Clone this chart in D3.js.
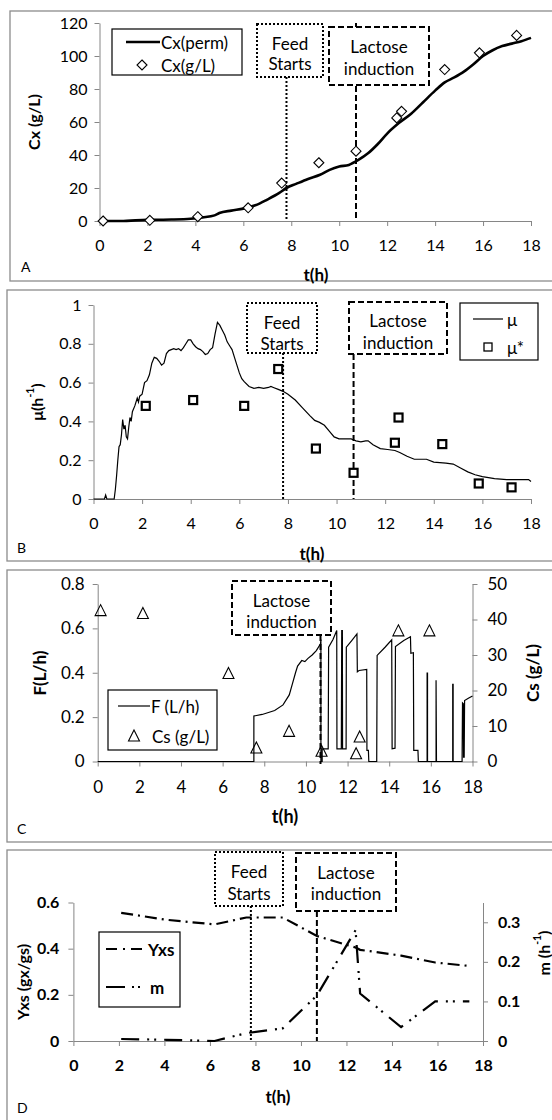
<!DOCTYPE html>
<html>
<head>
<meta charset="utf-8">
<script src="https://cdn.jsdelivr.net/npm/d3@7"></script>
<style>
  body { margin: 0; background: #fff; }
  svg text { font-family: Lato, "Open Sans", sans-serif; fill: #000; }
</style>
</head>
<body>
<svg id="fig" width="552" height="1120"></svg>
<script>
// ---------- data ----------
const ticksT   = [0, 2, 4, 6, 8, 10, 12, 14, 16, 18];
const ticksCx  = [0, 20, 40, 60, 80, 100, 120];
const ticksMu  = [0, 0.2, 0.4, 0.6, 0.8, 1];
const ticksF   = [0, 0.2, 0.4, 0.6, 0.8];
const ticksCs  = [0, 10, 20, 30, 40, 50];
const ticksYxs = [0, 0.2, 0.4, 0.6];
const ticksM   = [0, 0.1, 0.2, 0.3];

const tFeed = 7.8;       // feed starts (h)
const tLactose = 10.7;   // lactose induction (h)

// A: biomass from permittivity probe [t, g/L]
const cxPerm = [[0,0],[1,0],[1.5,0.4],[2,0.7],[3,0.9],[3.8,1.4],[4.3,2.2],[4.8,3.4],[5.0,4.8],[5.5,6.3],
  [6.0,7.5],[6.5,9.5],[7.0,13],[7.5,17],[7.8,20],[8.2,22.5],[8.7,25.5],[9.2,28],[9.6,31],[10,33],
  [10.4,34],[10.8,37],[11.2,41],[11.6,46.5],[12,53],[12.5,59.5],[13,65],[13.5,72],[14,79],[14.4,84],
  [14.8,87],[15.2,90.5],[15.6,95],[16,100],[16.4,103.5],[16.8,106],[17.2,107.5],[17.6,109],[18,111]];
// A: offline biomass samples [t, g/L]
const cxSample = [[0.15,0],[2.1,0.4],[4.1,2.6],[6.2,8],[7.6,23],[9.15,35.3],[10.7,42.3],[12.4,62.5],
  [12.6,66.5],[14.4,91.8],[15.85,101.9],[17.4,112.5]];

// B: online specific growth rate [t, 1/h]
const muOnline = [[0,0],[0.45,0],[0.5,0.02],[0.55,0],[0.85,0],[0.9,0.05],[0.95,0.12],[1.0,0.2],[1.05,0.27],
  [1.1,0.28],[1.15,0.33],[1.2,0.41],[1.25,0.36],[1.3,0.38],[1.35,0.32],[1.4,0.31],[1.45,0.37],[1.5,0.42],
  [1.55,0.4],[1.6,0.45],[1.7,0.48],[1.8,0.52],[1.85,0.5],[1.9,0.53],[2.0,0.54],[2.05,0.57],[2.1,0.6],
  [2.2,0.61],[2.3,0.64],[2.4,0.7],[2.5,0.73],[2.6,0.725],[2.7,0.71],[2.8,0.69],[2.9,0.7],[3.0,0.75],
  [3.1,0.765],[3.3,0.775],[3.4,0.77],[3.5,0.775],[3.6,0.765],[3.7,0.78],[3.8,0.8],[3.9,0.82],[4.0,0.82],
  [4.1,0.8],[4.2,0.785],[4.3,0.775],[4.4,0.77],[4.5,0.76],[4.6,0.745],[4.7,0.75],[4.8,0.77],[4.9,0.78],
  [5.0,0.85],[5.1,0.91],[5.2,0.895],[5.3,0.87],[5.4,0.845],[5.5,0.81],[5.6,0.79],[5.7,0.77],[5.8,0.73],
  [5.9,0.69],[6.0,0.65],[6.1,0.62],[6.2,0.605],[6.4,0.58],[6.6,0.57],[6.8,0.575],[7.0,0.57],[7.2,0.575],
  [7.3,0.58],[7.4,0.575],[7.6,0.565],[7.8,0.555],[8.0,0.54],[8.3,0.51],[8.6,0.47],[8.9,0.43],[9.1,0.405],
  [9.3,0.395],[9.5,0.38],[9.7,0.35],[9.9,0.32],[10.1,0.31],[10.4,0.31],[10.6,0.31],[10.8,0.3],[11.0,0.295],
  [11.2,0.3],[11.3,0.3],[11.5,0.28],[11.8,0.26],[12.1,0.255],[12.4,0.25],[12.6,0.24],[12.9,0.22],
  [13.2,0.205],[13.7,0.205],[14.0,0.19],[14.5,0.185],[14.8,0.18],[15.1,0.16],[15.4,0.14],[15.7,0.125],
  [16.0,0.115],[16.5,0.105],[17.0,0.1],[17.5,0.1],[17.9,0.1],[18.0,0.09]];
// B: growth rate from samples [t, 1/h]
const muSample = [[2.15,0.48],[4.1,0.51],[6.2,0.48],[7.6,0.67],[9.15,0.26],[10.7,0.135],[12.4,0.29],
  [12.55,0.42],[14.35,0.283],[15.85,0.08],[17.2,0.06]];

// C: feed rate [t, L/h]
const feedRate = [[0,0],[7.5,0],[7.5,0.205],[7.9,0.212],[8.5,0.23],[8.9,0.255],[9.2,0.3],[9.35,0.35],
  [9.5,0.4],[9.6,0.43],[9.8,0.455],[9.95,0.45],[10.1,0.465],[10.3,0.48],[10.5,0.5],[10.7,0.53],
  [10.72,0.55],[10.72,0],[10.78,0],[10.78,0.057],[11.07,0.057],[11.09,0.515],[11.3,0.55],[11.48,0.59],
  [11.49,0.057],[11.7,0.057],[11.72,0.59],[11.75,0.59],[11.76,0.057],[11.93,0.057],[11.94,0.515],
  [12.2,0.545],[12.45,0.575],[12.47,0.404],[12.55,0.41],[12.92,0.415],[12.93,0.05],[13.0,0.05],
  [13.02,0],[13.4,0],[13.42,0.478],[13.8,0.515],[14.12,0.548],[14.14,0.057],[14.28,0.06],[14.3,0.518],
  [14.7,0.545],[15.02,0.562],[15.04,0.488],[15.16,0.49],[15.18,0.05],[15.38,0.05],[15.4,0],[15.82,0],
  [15.82,0.398],[15.84,0.398],[15.84,0],[16.25,0],[16.25,0.366],[16.27,0],[17.05,0],[17.05,0.348],
  [17.07,0.348],[17.07,0],[17.5,0],[17.52,0.264],[17.56,0.26],[17.57,0.02],[17.6,0.02],[17.62,0.275],
  [17.8,0.285],[18,0.295]];
// C: residual substrate [t, g/L]
const csSample = [[0.14,42.5],[2.17,41.7],[6.28,24.8],[7.62,3.8],[9.19,8.5],[10.75,2.9],[12.41,2.2],
  [12.58,6.9],[14.44,36.8],[15.93,36.8]];

// D: biomass yield [t, gx/gs] and maintenance [t, 1/h]
const yxs = [[2.1,0.555],[4.1,0.525],[6.2,0.505],[7.6,0.535],[9.2,0.535],[10.7,0.455],[12.4,0.405],
  [12.6,0.395],[14.4,0.37],[15.9,0.34],[17.4,0.325]];
const mCoef = [[2.1,0.005],[4.1,0.003],[6.2,0],[7.6,0.02],[9.2,0.032],[10.7,0.115],[12.4,0.28],
  [12.6,0.12],[14.4,0.035],[15.9,0.1],[17.4,0.1]];

// ---------- drawing helpers ----------
const FONT = "Lato, 'Open Sans', sans-serif";
const AXIS = "#868686";
const fmt = d3.format("~g");
const svg = d3.select("#fig");

function frame(x, y, w, h) {
  svg.append("rect").attr("x", x).attr("y", y).attr("width", w).attr("height", h)
    .attr("fill", "none").attr("stroke", "#8c8c8c").attr("stroke-width", 1.3);
}

function axis(gen, tx, ty, size, bold) {
  const g = svg.append("g").attr("transform", `translate(${tx},${ty})`)
    .call(gen.tickFormat(fmt).tickSizeOuter(0));
  g.attr("font-family", FONT).attr("font-size", size).attr("font-weight", bold ? 700 : 400);
  g.select(".domain").attr("stroke", AXIS);
  g.selectAll(".tick line").attr("stroke", AXIS);
  g.selectAll(".tick text").attr("fill", "#000");
  return g;
}

function text(str, x, y, opts = {}) {
  return svg.append("text").attr("x", x).attr("y", y)
    .attr("font-size", opts.size || 16)
    .attr("font-weight", opts.bold ? 700 : 400)
    .attr("text-anchor", opts.anchor || "middle")
    .attr("dominant-baseline", "central")
    .text(str);
}

function vtitle(x, y, size, parts) {
  const t = svg.append("text")
    .attr("transform", `translate(${x},${y}) rotate(-90)`)
    .attr("font-size", size).attr("font-weight", 700)
    .attr("text-anchor", "middle").attr("dominant-baseline", "central");
  parts.forEach(p => {
    const s = t.append("tspan").text(p.t);
    if (p.sup) s.attr("font-size", size * 0.65).attr("dy", -size * 0.35);
    if (p.after) s.attr("dy", size * 0.35);
  });
  return t;
}

function noteBox(x0, y0, x1, y1, dash, lines, ys) {
  svg.append("rect").attr("x", x0).attr("y", y0).attr("width", x1 - x0).attr("height", y1 - y0)
    .attr("fill", "#fff").attr("stroke", "#000").attr("stroke-width", 2)
    .attr("stroke-dasharray", dash);
  lines.forEach((l, i) => text(l, (x0 + x1) / 2, ys[i], { size: 17 }));
}

function vline(x, y0, y1, dash) {
  svg.append("line").attr("x1", x).attr("x2", x).attr("y1", y0).attr("y2", y1)
    .attr("stroke", "#000").attr("stroke-width", 2).attr("stroke-dasharray", dash);
}

function legendBox(x0, y0, x1, y1) {
  svg.append("rect").attr("x", x0).attr("y", y0).attr("width", x1 - x0).attr("height", y1 - y0)
    .attr("fill", "#fff").attr("stroke", "#000").attr("stroke-width", 1.2);
}

const DOT = "2,2";
const DASH = "6,3";
const diamond = r => `M0,${-r}L${r},0L0,${r}L${-r},0Z`;
const triangle = (w, h) => `M0,${-h / 2 - 1}L${w / 2},${h / 2}L${-w / 2},${h / 2}Z`;

// ---------- A: biomass ----------
{
  frame(10, 11, 545, 270);
  const x = d3.scaleLinear().domain([0, 18]).range([99.5, 531]);
  const y = d3.scaleLinear().domain([0, 120]).range([221, 23]);

  axis(d3.axisLeft(y).tickValues(ticksCx).tickSize(5).tickPadding(7), x(0), 0, 16, false);
  axis(d3.axisBottom(x).tickValues(ticksT).tickSize(5).tickPadding(14), 0, y(0), 16, false);
  vtitle(33, 122, 16, [{ t: "Cx (g/L)" }]);
  text("t(h)", 316, 274, { size: 17, bold: true });
  text("A", 21, 266, { size: 14, anchor: "start" });

  vline(x(tFeed), 77, y(0), DOT);
  vline(x(tLactose), y(120), y(0), DASH);
  noteBox(257, 24, 323, 77, DOT, ["Feed", "Starts"], [43, 63]);
  noteBox(329, 27, 429, 85, DASH, ["Lactose", "induction"], [46, 68]);

  svg.append("path").datum(cxPerm)
    .attr("d", d3.line().x(d => x(d[0])).y(d => y(d[1])).curve(d3.curveMonotoneX))
    .attr("fill", "none").attr("stroke", "#000").attr("stroke-width", 2.6);
  svg.selectAll(".dA").data(cxSample).join("path")
    .attr("transform", d => `translate(${x(d[0])},${y(d[1])})`)
    .attr("d", diamond(5)).attr("fill", "#fff").attr("stroke", "#000").attr("stroke-width", 1.1);

  legendBox(112, 29, 242, 75);
  svg.append("line").attr("x1", 126).attr("x2", 160).attr("y1", 42).attr("y2", 42)
    .attr("stroke", "#000").attr("stroke-width", 2.6);
  text("Cx(perm)", 161, 42, { anchor: "start", size: 17 });
  svg.append("path").attr("transform", "translate(142,65)").attr("d", diamond(5))
    .attr("fill", "#fff").attr("stroke", "#000").attr("stroke-width", 1.1);
  text("Cx(g/L)", 161, 65, { anchor: "start", size: 17 });
}

// ---------- B: specific growth rate ----------
{
  frame(7, 290, 548, 271);
  const x = d3.scaleLinear().domain([0, 18]).range([93.5, 531]);
  const y = d3.scaleLinear().domain([0, 1]).range([499, 305]);

  axis(d3.axisLeft(y).tickValues(ticksMu).tickSize(5).tickPadding(7), x(0), 0, 16, false);
  axis(d3.axisBottom(x).tickValues(ticksT).tickSize(5).tickPadding(14), 0, y(0), 16, false);
  vtitle(36, 402, 16, [{ t: "μ(h" }, { t: "-1", sup: true }, { t: ")", after: true }]);
  text("t(h)", 312, 553, { size: 17, bold: true });
  text("B", 17, 547, { size: 14, anchor: "start" });

  vline(x(tFeed), 353, y(0), DOT);
  vline(x(tLactose), 354, y(0), DASH);
  noteBox(247, 303, 317, 353, DOT, ["Feed", "Starts"], [322, 343]);
  noteBox(349, 302, 447, 354, DASH, ["Lactose", "induction"], [320, 342]);

  svg.append("path").datum(muOnline)
    .attr("d", d3.line().x(d => x(d[0])).y(d => y(d[1])))
    .attr("fill", "none").attr("stroke", "#000").attr("stroke-width", 1.2);
  svg.selectAll(".sB").data(muSample).join("rect")
    .attr("x", d => x(d[0]) - 4).attr("y", d => y(d[1]) - 4).attr("width", 8).attr("height", 8)
    .attr("fill", "#fff").attr("stroke", "#000").attr("stroke-width", 2.2);

  legendBox(460, 303, 538, 360);
  svg.append("line").attr("x1", 473).attr("x2", 503).attr("y1", 319).attr("y2", 319)
    .attr("stroke", "#000").attr("stroke-width", 1.2);
  text("μ", 507, 319, { anchor: "start", size: 17 });
  svg.append("rect").attr("x", 484).attr("y", 343).attr("width", 8).attr("height", 8)
    .attr("fill", "#fff").attr("stroke", "#000").attr("stroke-width", 1.3);
  text("μ*", 507, 347, { anchor: "start", size: 17 });
}

// ---------- C: feed rate and substrate ----------
{
  frame(7, 570, 548, 272);
  const x = d3.scaleLinear().domain([0, 18]).range([97.7, 472.5]);
  const yF = d3.scaleLinear().domain([0, 0.8]).range([761.5, 584]);
  const yS = d3.scaleLinear().domain([0, 50]).range([761.5, 584]);

  axis(d3.axisLeft(yF).tickValues(ticksF).tickSize(5).tickPadding(8), x(0), 0, 17, false);
  axis(d3.axisRight(yS).tickValues(ticksCs).tickSize(5).tickPadding(10), x(18), 0, 17, false);
  axis(d3.axisBottom(x).tickValues(ticksT).tickSize(5).tickPadding(14), 0, yF(0), 17, false);
  vtitle(39, 673, 17, [{ t: "F(L/h)" }]);
  vtitle(532, 673, 17, [{ t: "Cs (g/L)" }]);
  text("t(h)", 285, 816, { size: 18, bold: true });
  text("C", 17, 828, { size: 14, anchor: "start" });

  svg.append("path").datum(feedRate)
    .attr("d", d3.line().x(d => x(d[0])).y(d => yF(d[1])))
    .attr("fill", "none").attr("stroke", "#000").attr("stroke-width", 1.2);
  vline(x(tLactose), 635, 764, DASH);
  noteBox(232, 581, 331, 635, DASH, ["Lactose", "induction"], [600, 621]);

  svg.selectAll(".tC").data(csSample).join("path")
    .attr("transform", d => `translate(${x(d[0])},${yS(d[1])})`)
    .attr("d", triangle(11, 10)).attr("fill", "none").attr("stroke", "#000").attr("stroke-width", 1.1);

  legendBox(108, 690, 217, 750);
  svg.append("line").attr("x1", 118).attr("x2", 150).attr("y1", 706).attr("y2", 706)
    .attr("stroke", "#000").attr("stroke-width", 1.2);
  text("F (L/h)", 151, 706, { anchor: "start", size: 17 });
  svg.append("path").attr("transform", "translate(134,736)").attr("d", triangle(11, 10))
    .attr("fill", "none").attr("stroke", "#000").attr("stroke-width", 1.1);
  text("Cs (g/L)", 152, 736, { anchor: "start", size: 17 });
}

// ---------- D: yield and maintenance ----------
{
  frame(7, 850, 548, 272);
  const x = d3.scaleLinear().domain([0, 18]).range([73.4, 483]);
  const yL = d3.scaleLinear().domain([0, 0.6]).range([1041, 902.5]);
  const yR = d3.scaleLinear().domain([0, 0.35]).range([1041, 902.5]);

  axis(d3.axisLeft(yL).tickValues(ticksYxs).tickSize(5).tickPadding(9), x(0), 0, 16, true);
  axis(d3.axisRight(yR).tickValues(ticksM).tickSize(5).tickPadding(10), x(18), 0, 16, true);
  axis(d3.axisBottom(x).tickValues(ticksT).tickSize(5).tickPadding(14), 0, yL(0), 16, true);
  vtitle(22, 982, 16, [{ t: "Yxs (gx/gs)" }]);
  vtitle(543, 953, 16, [{ t: "m (h" }, { t: "-1", sup: true }, { t: ")", after: true }]);
  text("t(h)", 278, 1096, { size: 17, bold: true });
  text("D", 17, 1107, { size: 14, anchor: "start" });

  vline(x(tFeed), 906, yL(0), DOT);
  vline(x(tLactose), 911, yL(0), DASH);
  noteBox(215, 852, 283, 906, DOT, ["Feed", "Starts"], [871, 893]);
  noteBox(296, 853, 396, 911, DASH, ["Lactose", "induction"], [872, 893]);

  const YXS_DASH = "12,5,2,5";
  const M_DASH = "18,8,2,5,2,8";
  svg.append("path").datum(yxs)
    .attr("d", d3.line().x(d => x(d[0])).y(d => yL(d[1])))
    .attr("fill", "none").attr("stroke", "#000").attr("stroke-width", 2.2)
    .attr("stroke-dasharray", YXS_DASH);
  svg.append("path").datum(mCoef)
    .attr("d", d3.line().x(d => x(d[0])).y(d => yR(d[1])))
    .attr("fill", "none").attr("stroke", "#000").attr("stroke-width", 2.2)
    .attr("stroke-dasharray", M_DASH);

  legendBox(99, 932, 180, 1007);
  svg.append("line").attr("x1", 106).attr("x2", 142).attr("y1", 949).attr("y2", 949)
    .attr("stroke", "#000").attr("stroke-width", 2.2).attr("stroke-dasharray", "11,6,2,6");
  text("Yxs", 148, 949, { anchor: "start", bold: true, size: 17 });
  svg.append("line").attr("x1", 106).attr("x2", 142).attr("y1", 987).attr("y2", 987)
    .attr("stroke", "#000").attr("stroke-width", 2.2).attr("stroke-dasharray", "19,7,2,4,2,7");
  text("m", 150, 987, { anchor: "start", bold: true, size: 17 });
}
</script>
</body>
</html>
